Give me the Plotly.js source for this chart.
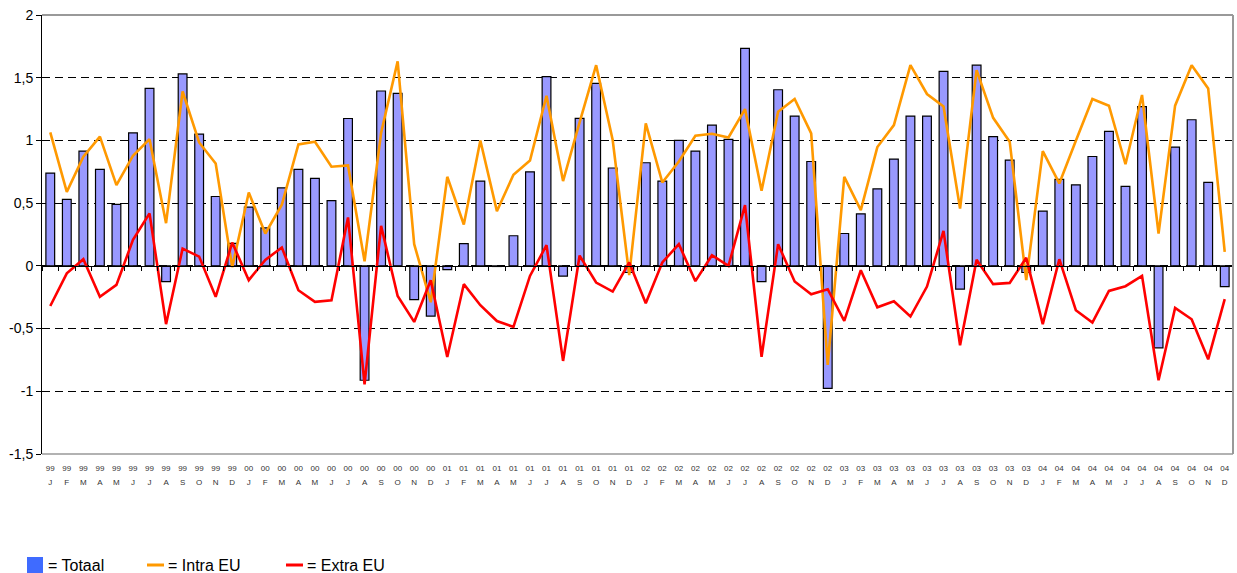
<!DOCTYPE html>
<html><head><meta charset="utf-8">
<script src="https://cdn.plot.ly/plotly-3.0.1.min.js"></script>
<style>html,body{margin:0;padding:0;background:#fff}#chart{width:1237px;height:573px}</style>
</head><body><div id="chart"></div>
<script>
const years = ['99','00','01','02','03','04'];
const months = ['J','F','M','A','M','J','J','A','S','O','N','D'];

const totaal = [
  0.74, 0.53, 0.915, 0.77, 0.49, 1.06, 1.415, -0.125, 1.53, 1.05, 0.553, 0.18,
  0.468, 0.303, 0.622, 0.77, 0.697, 0.52, 1.175, -0.912, 1.394, 1.375, -0.27, -0.40,
  -0.03, 0.178, 0.676, -0.005, 0.24, 0.75, 1.508, -0.082, 1.176, 1.455, 0.78, -0.053,
  0.822, 0.676, 1.0, 0.915, 1.122, 1.008, 1.734, -0.125, 1.404, 1.194, 0.832, -0.976,
  0.258, 0.415, 0.614, 0.851, 1.194, 1.194, 1.55, -0.186, 1.60, 1.03, 0.843, -0.053,
  0.436, 0.69, 0.646, 0.872, 1.072, 0.633, 1.27, -0.654, 0.947, 1.165, 0.665, -0.165
];
const intraEU = [
  1.064, 0.59, 0.87, 1.03, 0.644, 0.878, 1.01, 0.34, 1.39, 0.984, 0.816, -0.01,
  0.585, 0.258, 0.487, 0.968, 0.99, 0.79, 0.80, 0.037, 1.06, 1.63, 0.173, -0.29,
  0.71, 0.33, 1.0, 0.436, 0.726, 0.84, 1.356, 0.676, 1.144, 1.60, 1.003, -0.074,
  1.136, 0.665, 0.832, 1.037, 1.053, 1.024, 1.25, 0.598, 1.229, 1.33, 1.056, -0.79,
  0.71, 0.444, 0.947, 1.122, 1.60, 1.37, 1.27, 0.457, 1.56, 1.18, 0.99, -0.114,
  0.915, 0.657, 0.997, 1.33, 1.277, 0.81, 1.362, 0.258, 1.277, 1.60, 1.415, 0.112
];
const extraEU = [
  -0.32, -0.06, 0.053, -0.247, -0.152, 0.207, 0.418, -0.465, 0.138, 0.074, -0.247, 0.186,
  -0.114, 0.048, 0.146, -0.194, -0.287, -0.274, 0.386, -0.944, 0.319, -0.24, -0.447, -0.114,
  -0.726, -0.146, -0.314, -0.44, -0.487, -0.08, 0.165, -0.758, 0.082, -0.133, -0.205, 0.027,
  -0.298, 0.027, 0.173, -0.122, 0.085, 0.0, 0.484, -0.726, 0.173, -0.125, -0.226, -0.186,
  -0.439, -0.035, -0.33, -0.282, -0.404, -0.165, 0.279, -0.633, 0.048, -0.146, -0.136, 0.064,
  -0.465, 0.053, -0.354, -0.452, -0.2, -0.162, -0.08, -0.912, -0.335, -0.426, -0.745, -0.266
];
const yTickVals = [2, 1.5, 1, 0.5, 0, -0.5, -1, -1.5];
const yTickText = ['2', '1,5', '1', '0,5', '0', '-0,5', '-1', '-1,5'];
const legendNames = ['= Totaal', '= Intra EU', '= Extra EU'];

const yearLabels = [], monthLabels = [];
years.forEach(y => months.forEach(m => { yearLabels.push(y); monthLabels.push(m); }));
const idx = yearLabels.map((_, i) => i);
const bounds = idx.concat([idx.length]).map(i => i - 0.5);

const W = 1237, H = 573;
const M = {l: 42, r: 4, t: 15, b: 119};
const PW = W - M.l - M.r, PH = H - M.t - M.b;
const px = x => (x - M.l) / PW;
const py = y => (H - M.b - y) / PH;
const FONT = 'Liberation Sans, Arial, sans-serif';
const yMin = -1.5, yMax = 2;

const traces = [
  {type: 'bar', x: idx, y: totaal, name: legendNames[0], xaxis: 'x', yaxis: 'y',
   marker: {color: '#9999FF', line: {color: '#000', width: 1.2}}},
  {type: 'scatter', mode: 'lines', x: idx, y: intraEU, name: legendNames[1], xaxis: 'x2', yaxis: 'y',
   line: {color: '#FF9900', width: 2.6}},
  {type: 'scatter', mode: 'lines', x: idx, y: extraEU, name: legendNames[2], xaxis: 'x3', yaxis: 'y',
   line: {color: '#FF0000', width: 2.6}}
];

const gray = '#999999';
const xr = [-0.5, idx.length - 0.5];
const layout = {
  width: W, height: H,
  margin: M,
  paper_bgcolor: '#fff', plot_bgcolor: '#fff',
  showlegend: false,
  bargap: 0.47,
  font: {family: FONT, color: '#000'},
  xaxis: {
    range: xr, tickmode: 'array', tickvals: idx, ticktext: yearLabels,
    tickfont: {size: 8, color: '#333'}, showgrid: false, zeroline: false, showline: false,
    ticks: '', ticklabelstandoff: 8
  },
  xaxis2: {
    overlaying: 'x', anchor: 'y', side: 'bottom',
    range: xr, tickmode: 'array', tickvals: idx, ticktext: monthLabels,
    tickfont: {size: 8, color: '#333'}, showgrid: false, zeroline: false, showline: false,
    ticks: '', ticklabelstandoff: 22
  },
  xaxis3: {
    overlaying: 'x', anchor: 'free', position: (0 - yMin) / (yMax - yMin), side: 'bottom',
    range: xr, tickmode: 'array', tickvals: bounds,
    showticklabels: false, showgrid: false, zeroline: false,
    showline: true, linecolor: '#000', linewidth: 1, ticks: 'outside', ticklen: 4,
    tickcolor: '#000', tickwidth: 1
  },
  yaxis: {
    range: [yMin, yMax], tickmode: 'array', tickvals: yTickVals, ticktext: yTickText,
    tickfont: {size: 14, color: '#000'}, showgrid: true, gridcolor: '#000', gridwidth: 1,
    griddash: '8px,5px', zeroline: false, showline: true, linecolor: '#000', linewidth: 1,
    ticks: 'outside', ticklen: 5, tickcolor: '#000'
  },
  shapes: [
    {type: 'line', xref: 'paper', yref: 'paper', x0: 0, x1: 1, y0: 1, y1: 1, line: {color: gray, width: 2}},
    {type: 'line', xref: 'paper', yref: 'paper', x0: 1, x1: 1, y0: 0, y1: 1, line: {color: gray, width: 2}},
    {type: 'line', xref: 'paper', yref: 'paper', x0: 0, x1: 1, y0: 0, y1: 0, line: {color: gray, width: 1.5}},
    {type: 'rect', xref: 'paper', yref: 'paper', x0: px(27), x1: px(43), y0: py(557), y1: py(573),
     fillcolor: '#3F6BFF', line: {width: 0}},
    {type: 'line', xref: 'paper', yref: 'paper', x0: px(147), x1: px(164), y0: py(565), y1: py(565),
     line: {color: '#FF9900', width: 3}},
    {type: 'line', xref: 'paper', yref: 'paper', x0: px(286), x1: px(303), y0: py(565), y1: py(565),
     line: {color: '#FF0000', width: 3}}
  ],
  annotations: [
    {xref: 'paper', yref: 'paper', x: px(46), y: py(565), text: legendNames[0], showarrow: false,
     xanchor: 'left', yanchor: 'middle', font: {size: 16, color: '#000'}},
    {xref: 'paper', yref: 'paper', x: px(166), y: py(565), text: legendNames[1], showarrow: false,
     xanchor: 'left', yanchor: 'middle', font: {size: 16, color: '#000'}},
    {xref: 'paper', yref: 'paper', x: px(305), y: py(565), text: legendNames[2], showarrow: false,
     xanchor: 'left', yanchor: 'middle', font: {size: 16, color: '#000'}}
  ]
};

Plotly.newPlot('chart', traces, layout, {displayModeBar: false, staticPlot: true});
</script>
</body></html>
